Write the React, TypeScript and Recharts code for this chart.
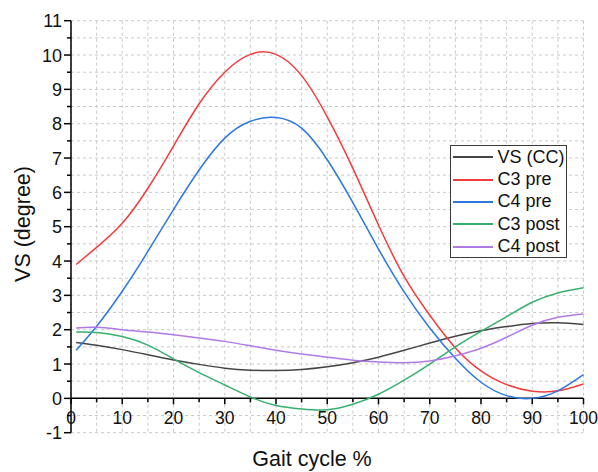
import React from 'react';
import { LineChart, Line, XAxis, YAxis, CartesianGrid, ReferenceLine } from 'recharts';

const gait = [1, 5, 10, 15, 20, 25, 30, 35, 40, 45, 50, 55, 60, 65, 70, 75, 80, 85, 90, 95, 100];
const vsCC = [1.63, 1.55, 1.42, 1.27, 1.12, 0.99, 0.88, 0.82, 0.81, 0.84, 0.92, 1.04, 1.20, 1.40, 1.61, 1.81, 1.97, 2.09, 2.18, 2.20, 2.15];
const c3Pre = [3.90, 4.40, 5.10, 6.12, 7.35, 8.58, 9.5, 10.02, 10.02, 9.40, 8.2, 6.7, 5.05, 3.55, 2.42, 1.47, 0.80, 0.40, 0.21, 0.22, 0.42];
const c4Pre = [1.40, 2.10, 3.12, 4.28, 5.5, 6.65, 7.58, 8.07, 8.18, 7.87, 6.95, 5.7, 4.35, 3.1, 2.05, 1.17, 0.47, 0.08, 0.0, 0.22, 0.69];
const c3Post = [1.93, 1.92, 1.80, 1.55, 1.15, 0.75, 0.39, 0.04, -0.21, -0.31, -0.33, -0.17, 0.12, 0.53, 1.0, 1.50, 1.95, 2.38, 2.80, 3.07, 3.22];
const c4Post = [2.05, 2.07, 2.00, 1.93, 1.85, 1.76, 1.66, 1.53, 1.40, 1.29, 1.20, 1.11, 1.06, 1.04, 1.09, 1.24, 1.46, 1.78, 2.13, 2.36, 2.46];

const xTicks = [0, 5, 10, 15, 20, 25, 30, 35, 40, 45, 50, 55, 60, 65, 70, 75, 80, 85, 90, 95, 100];
const yTicks = [-1, -0.5, 0, 0.5, 1, 1.5, 2, 2.5, 3, 3.5, 4, 4.5, 5, 5.5, 6, 6.5, 7, 7.5, 8, 8.5, 9, 9.5, 10, 10.5, 11];

const seriesNames = ['VS (CC)', 'C3 pre', 'C4 pre', 'C3 post', 'C4 post'];
const seriesKeys = ['vs', 'c3pre', 'c4pre', 'c3post', 'c4post'];
const seriesColors = ['#454545', '#f23c3c', '#2a78e0', '#35b06e', '#b07ae6'];

const data = gait.map((g, i) => ({
  x: g,
  vs: vsCC[i],
  c3pre: c3Pre[i],
  c4pre: c4Pre[i],
  c3post: c3Post[i],
  c4post: c4Post[i],
}));

const W = 598;
const H = 472;
const M_TOP = 20.7;
const X_AXIS_H = 39.3;
const Y_AXIS_W = 71;
const M_RIGHT = 14.5;
const PLOT_H = H - M_TOP - X_AXIS_H;
const UNIT = PLOT_H / 12;
const FONT = '"Liberation Sans", Arial, sans-serif';

const XTick = (props: any) => {
  const { x, y, payload } = props;
  const v = payload.value;
  const major = v % 10 === 0;
  const y0 = y - UNIT;
  return (
    <g>
      <line x1={x} y1={y0} x2={x} y2={y0 + (major ? 6 : 4)} stroke="#000" strokeWidth={1.5} />
      {major && (
        <text x={x} y={y0 + 26} textAnchor="middle" fontSize={17.5} fontFamily={FONT} fill="#111">
          {v}
        </text>
      )}
    </g>
  );
};

const YTick = (props: any) => {
  const { x, y, payload } = props;
  const v = payload.value;
  const major = Number.isInteger(v);
  return (
    <g>
      <line x1={x - (major ? 7 : 4)} y1={y} x2={x} y2={y} stroke="#000" strokeWidth={1.5} />
      {major && (
        <text x={x - 9} y={y} dy="0.36em" textAnchor="end" fontSize={18} fontFamily={FONT} fill="#111">
          {v}
        </text>
      )}
    </g>
  );
};

export default function App() {
  return (
    <div style={{ position: 'absolute', left: 0, top: 0, width: W, height: H, background: '#fff' }}>
      <LineChart width={W} height={H} data={data} margin={{ top: M_TOP, right: M_RIGHT, bottom: 0, left: 0 }}>
        <CartesianGrid stroke="#c8c8c8" strokeDasharray="3 3" />
        <XAxis
          dataKey="x"
          type="number"
          domain={[0, 100]}
          ticks={xTicks}
          interval={0}
          height={X_AXIS_H}
          axisLine={false}
          tickLine={false}
          tickSize={0}
          tickMargin={0}
          tick={<XTick />}
        />
        <YAxis
          type="number"
          domain={[-1, 11]}
          ticks={yTicks}
          interval={0}
          width={Y_AXIS_W}
          axisLine={{ stroke: '#000', strokeWidth: 1.5 }}
          tickLine={false}
          tickSize={0}
          tickMargin={0}
          tick={<YTick />}
        />
        <ReferenceLine y={0} stroke="#000" strokeWidth={1.5} />
        {seriesKeys.map((k, i) => (
          <Line
            key={k}
            dataKey={k}
            type="natural"
            stroke={seriesColors[i]}
            strokeWidth={1.5}
            dot={false}
            activeDot={false}
            isAnimationActive={false}
          />
        ))}
      </LineChart>
      <svg width={W} height={H} style={{ position: 'absolute', left: 0, top: 0, pointerEvents: 'none' }}>
        <text
          x={0}
          y={0}
          transform="translate(30, 224) rotate(-90)"
          textAnchor="middle"
          fontSize={21.5}
          fontFamily={FONT}
          fill="#111"
        >
          VS (degree)
        </text>
        <text x={312} y={466} textAnchor="middle" fontSize={21.5} fontFamily={FONT} fill="#111">
          Gait cycle %
        </text>
      </svg>
      <div
        style={{
          position: 'absolute',
          left: 450,
          top: 145,
          width: 115,
          height: 111,
          border: '1.5px solid #3a3a3a',
          background: '#fff',
          fontFamily: FONT,
          fontSize: 18,
          color: '#111',
        }}
      >
        {seriesNames.map((n, i) => (
          <div key={n} style={{ height: 22.4, display: 'flex', alignItems: 'center', whiteSpace: 'nowrap' }}>
            <div style={{ width: 40, height: 0, borderTop: `2px solid ${seriesColors[i]}`, marginLeft: 1.5, marginRight: 5 }} />
            <span>{n}</span>
          </div>
        ))}
      </div>
    </div>
  );
}
